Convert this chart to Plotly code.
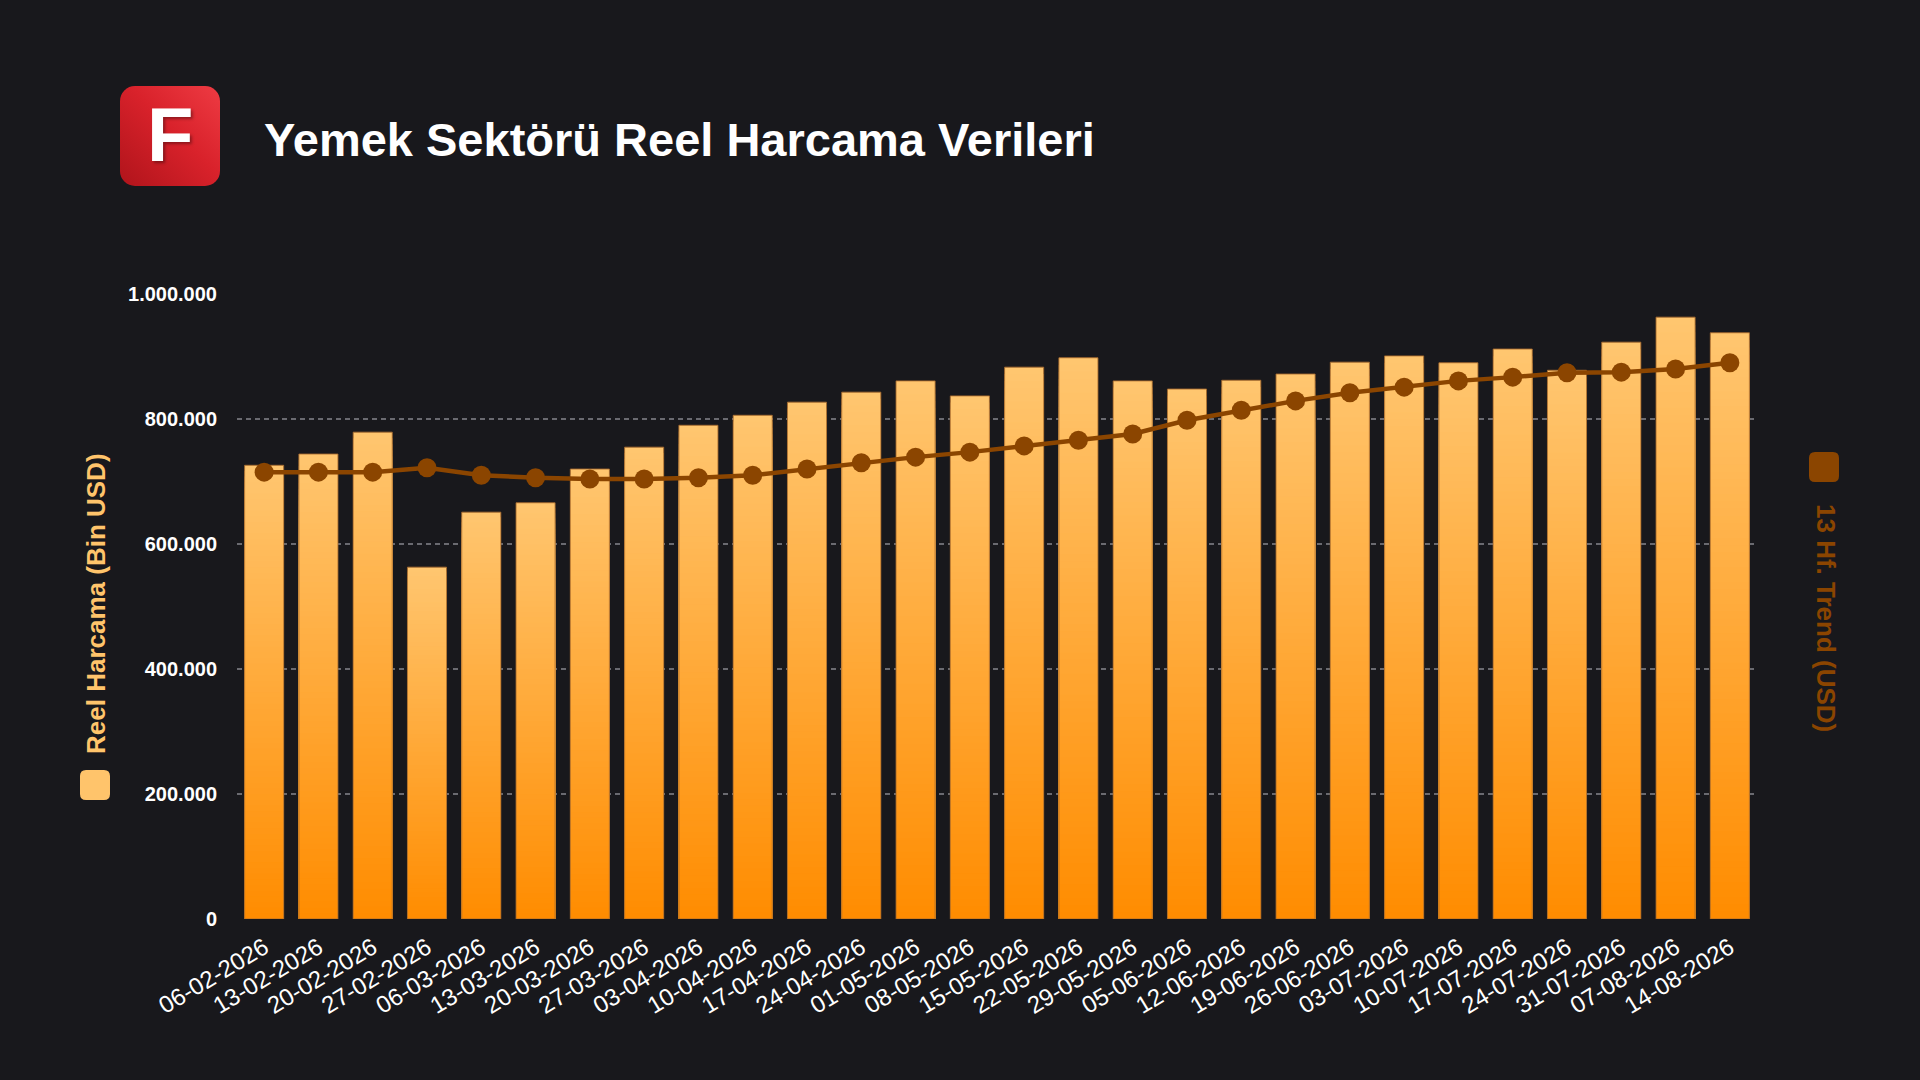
import base64
import plotly.graph_objects as go

# ---------------- data ----------------
dates = ["06-02-2026", "13-02-2026", "20-02-2026", "27-02-2026", "06-03-2026", "13-03-2026",
         "20-03-2026", "27-03-2026", "03-04-2026", "10-04-2026", "17-04-2026", "24-04-2026",
         "01-05-2026", "08-05-2026", "15-05-2026", "22-05-2026", "29-05-2026", "05-06-2026",
         "12-06-2026", "19-06-2026", "26-06-2026", "03-07-2026", "10-07-2026", "17-07-2026",
         "24-07-2026", "31-07-2026", "07-08-2026", "14-08-2026"]
reel_harcama = [726000, 744000, 779000, 563000, 651000, 666000, 720000, 755000, 790000, 806000,
                827000, 843000, 861000, 837000, 883000, 898000, 861000, 848000, 862000, 872000,
                891000, 901000, 890000, 912000, 878000, 923000, 963000, 938000]
trend_13hf = [715000, 715000, 715000, 722000, 710000, 706000, 704000, 704000, 706000, 710000,
              720000, 730000, 739000, 747000, 757000, 766000, 776000, 798000, 814000, 829000,
              842000, 851000, 861000, 867000, 874000, 875000, 880000, 890000]
y_tick_vals = [0, 200000, 400000, 600000, 800000, 1000000]
y_tick_text = ["0", "200.000", "400.000", "600.000", "800.000", "1.000.000"]

title_text = "Yemek Sektörü Reel Harcama Verileri"
left_title = "Reel Harcama (Bin USD)"
right_title = "13 Hf. Trend (USD)"

# ---------------- style ----------------
W, H = 1920, 1080
ML, MR, MT, MB = 237, 163, 294, 161
PW, PH = W - ML - MR, H - MT - MB
BG = "#18181c"
FONT = "Liberation Sans, Arial, Helvetica, sans-serif"
BAR_TOP = (255, 198, 112)
BAR_BOT = (255, 140, 0)
TREND_C = "#8b4500"


def px_x(px):
    return (px - ML) / PW


def px_y(py):
    return (H - MB - py) / PH


def mix(t):
    c = [round(BAR_BOT[i] + (BAR_TOP[i] - BAR_BOT[i]) * t) for i in range(3)]
    return "rgb(%d,%d,%d)" % tuple(c)


def rounded_rect(x0, y0, x1, y1, r):
    # pixel coords (y down) -> paper path
    X = lambda v: "%.6f" % px_x(v)
    Y = lambda v: "%.6f" % px_y(v)
    return ("M %s,%s L %s,%s Q %s,%s %s,%s L %s,%s Q %s,%s %s,%s L %s,%s Q %s,%s %s,%s "
            "L %s,%s Q %s,%s %s,%s Z") % (
        X(x0 + r), Y(y0), X(x1 - r), Y(y0), X(x1), Y(y0), X(x1), Y(y0 + r),
        X(x1), Y(y1 - r), X(x1), Y(y1), X(x1 - r), Y(y1),
        X(x0 + r), Y(y1), X(x0), Y(y1), X(x0), Y(y1 - r),
        X(x0), Y(y0 + r), X(x0), Y(y0), X(x0 + r), Y(y0))


fig = go.Figure()

# gradient bars: nested bars from full height down, each a little darker
N = 80
for k in range(N):
    frac = (N - k) / N
    fig.add_trace(go.Bar(
        x=dates,
        y=[v * frac for v in reel_harcama],
        marker=dict(color=mix((N - k - 0.5) / N), line=dict(width=0)),
        showlegend=False, hoverinfo="skip",
    ))

# outline trace (real values)
fig.add_trace(go.Bar(
    x=dates, y=reel_harcama, name=left_title,
    marker=dict(color="rgba(0,0,0,0)", line=dict(color="rgba(165,105,45,0.85)", width=1)),
    showlegend=False,
))

fig.add_trace(go.Scatter(
    x=dates, y=trend_13hf, name=right_title, yaxis="y2",
    mode="lines+markers",
    line=dict(color=TREND_C, width=4.5),
    marker=dict(color=TREND_C, size=19),
    showlegend=False,
))

# logo background (gradient rounded square)
svg = ("<svg xmlns='http://www.w3.org/2000/svg' width='100' height='100'>"
       "<defs><linearGradient id='g' x1='0' y1='1' x2='1' y2='0'>"
       "<stop offset='0' stop-color='#b0141b'/><stop offset='0.55' stop-color='#d9222b'/>"
       "<stop offset='1' stop-color='#ee3b43'/></linearGradient></defs>"
       "<rect width='100' height='100' rx='15' ry='15' fill='url(#g)'/></svg>")
logo_src = "data:image/svg+xml;base64," + base64.b64encode(svg.encode()).decode()

annotations = [
    dict(text="<b>F</b>", x=px_x(170), y=px_y(134), xref="paper", yref="paper",
         xanchor="center", yanchor="middle", showarrow=False,
         font=dict(family=FONT, size=76, color="white", shadow="2px 2px 3px rgba(0,0,0,0.35)")),
    dict(text="<b>" + title_text + "</b>", x=px_x(262), y=px_y(139), xref="paper", yref="paper",
         xanchor="left", yanchor="middle", showarrow=False,
         font=dict(family=FONT, size=47, color="white")),
    dict(text="<b>" + left_title + "</b>", x=px_x(96), y=px_y(604), xref="paper", yref="paper",
         xanchor="center", yanchor="middle", showarrow=False, textangle=-90,
         font=dict(family=FONT, size=26, color="#ffc46b")),
    dict(text="<b>" + right_title + "</b>", x=px_x(1826), y=px_y(618), xref="paper", yref="paper",
         xanchor="center", yanchor="middle", showarrow=False, textangle=90,
         font=dict(family=FONT, size=26, color=TREND_C)),
]

shapes = [
    dict(type="path", xref="paper", yref="paper", path=rounded_rect(80, 770, 110, 800, 6),
         fillcolor="#ffc46b", line=dict(width=0), layer="above"),
    dict(type="path", xref="paper", yref="paper", path=rounded_rect(1809, 452, 1839, 482, 6),
         fillcolor=TREND_C, line=dict(width=0), layer="above"),
]

fig.update_layout(
    width=W, height=H,
    margin=dict(l=ML, r=MR, t=MT, b=MB, pad=0),
    paper_bgcolor=BG, plot_bgcolor=BG,
    barmode="overlay", bargap=0.28,
    font=dict(family=FONT, color="white"),
    xaxis=dict(type="category", range=[-0.5, len(dates) - 0.5], autorange=False,
               showgrid=False, zeroline=False, showline=False,
               tickangle=-31, tickfont=dict(family=FONT, size=24, color="white"),
               ticks="", ticklabelstandoff=9),
    yaxis=dict(range=[0, 1000000], tickvals=y_tick_vals, ticktext=y_tick_text,
               showgrid=True, gridcolor="#6a6a70", gridwidth=2, griddash="5px,4px",
               zeroline=False, showline=False, ticks="", ticklabelstandoff=19,
               tickfont=dict(family=FONT, size=20, color="white", weight="bold")),
    yaxis2=dict(range=[0, 1000000], overlaying="y", side="right", showgrid=False,
                zeroline=False, showticklabels=False, showline=False),
    annotations=annotations,
    shapes=shapes,
    images=[dict(source=logo_src, xref="paper", yref="paper", x=px_x(120), y=px_y(86),
                 sizex=100 / PW, sizey=100 / PH, xanchor="left", yanchor="top",
                 sizing="stretch", layer="above")],
    showlegend=False,
)

fig.write_html("out.html", config={"displayModeBar": False},
               post_script="document.body.style.margin='0';document.body.style.overflow='hidden';")
